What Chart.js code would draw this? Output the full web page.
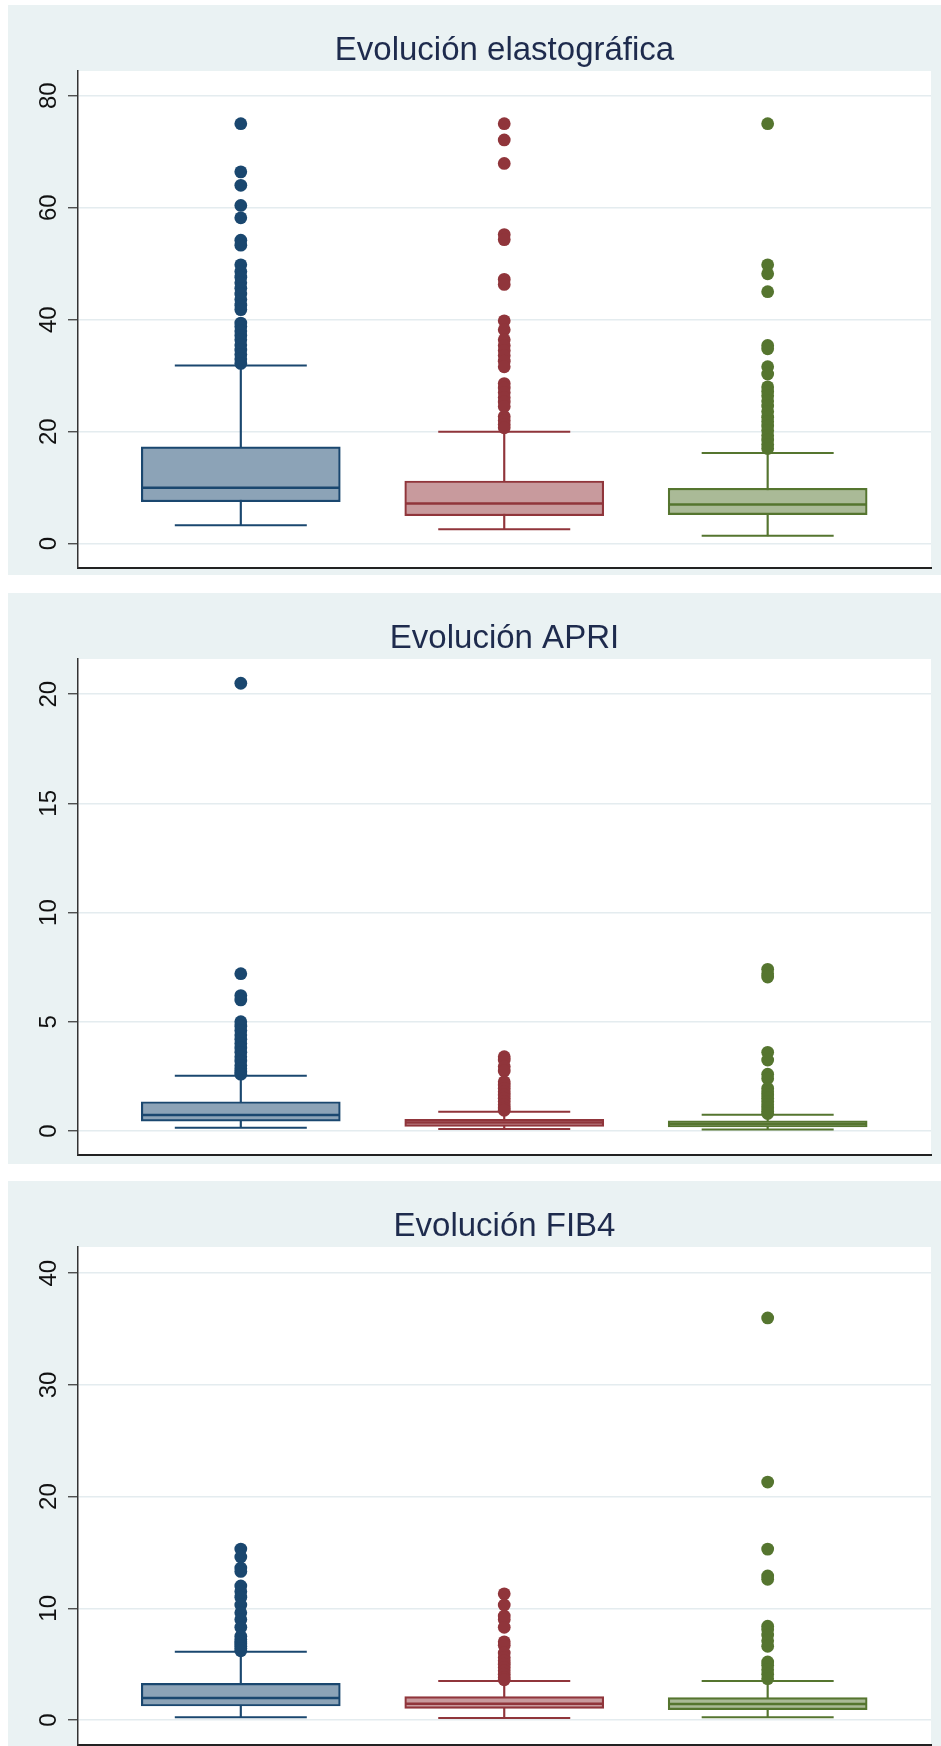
<!DOCTYPE html>
<html lang="es">
<head>
<meta charset="UTF-8">
<title>Evolución</title>
<script src="https://cdn.jsdelivr.net/npm/chart.js"></script>
<style>
    body {
        margin: 0;
        background: #ffffff;
        width: 941px;
        height: 1746px;
        position: relative;
        overflow: hidden;
    }

    .panel {
        position: absolute;
        left: 8px;
        width: 933px;
        background: #eaf2f3;
    }

    .panel canvas {
        display: block;
    }
</style>
</head>
<body>
    <div class="panel" style="top:5px;height:570px"><canvas id="elastoChart" width="933" height="570"></canvas></div>
    <div class="panel" style="top:593px;height:571px"><canvas id="apriChart" width="933" height="571"></canvas></div>
    <div class="panel" style="top:1181px;height:565px"><canvas id="fib4Chart" width="933" height="565"></canvas></div>

<script>
    // groups (one box per group, no axis labels in the original)
    const groups = [1, 2, 3];

    // Evolución elastográfica
    const elastoLow = [3.3, 2.6, 1.4];
    const elastoQ1 = [7.5, 5.0, 5.2];
    const elastoMedian = [10.0, 7.2, 7.0];
    const elastoQ3 = [17.3, 11.2, 9.9];
    const elastoHigh = [31.8, 20.0, 16.2];
    const elastoOutBlue = [75.0, 66.4, 64.0, 60.4, 58.2, 54.2, 53.3, 49.8, 48.6, 47.6, 46.6, 45.6, 44.6, 43.6, 42.6, 41.8, 39.4, 38.8, 38.0, 37.2, 36.4, 35.5, 34.6, 33.8, 33.0, 32.2];
    const elastoOutRed = [75.0, 72.1, 67.9, 55.2, 54.3, 47.2, 46.3, 39.8, 38.2, 36.4, 35.4, 34.5, 33.6, 32.6, 31.6, 28.6, 27.8, 27.0, 26.1, 25.3, 24.5, 22.7, 22.0, 21.3, 20.7];
    const elastoOutGreen = [75.0, 49.8, 48.2, 45.0, 35.4, 34.8, 31.6, 30.3, 28.0, 27.2, 26.4, 25.5, 24.6, 23.6, 22.6, 21.8, 21.0, 20.2, 19.3, 18.5, 17.7, 17.0];
    const elastoTicks = [0, 20, 40, 60, 80];

    // Evolución APRI
    const apriLow = [0.15, 0.09, 0.07];
    const apriQ1 = [0.45, 0.21, 0.18];
    const apriMedian = [0.73, 0.39, 0.33];
    const apriQ3 = [1.34, 0.53, 0.47];
    const apriHigh = [2.53, 0.88, 0.74];
    const apriOutBlue = [20.5, 7.2, 6.2, 6.0, 5.0, 4.8, 4.6, 4.4, 4.2, 4.0, 3.8, 3.6, 3.4, 3.2, 3.0, 2.85, 2.7, 2.6];
    const apriOutRed = [3.4, 3.25, 2.95, 2.75, 2.25, 2.1, 1.95, 1.8, 1.65, 1.5, 1.35, 1.2, 1.05, 0.95];
    const apriOutGreen = [7.4, 7.2, 7.05, 3.6, 3.25, 2.6, 2.4, 1.95, 1.8, 1.65, 1.5, 1.35, 1.2, 1.05, 0.9, 0.8];
    const apriTicks = [0, 5, 10, 15, 20];

    // Evolución FIB4
    const fib4Low = [0.24, 0.18, 0.24];
    const fib4Q1 = [1.25, 1.04, 0.93];
    const fib4Median = [1.97, 1.45, 1.43];
    const fib4Q3 = [3.28, 2.09, 2.0];
    const fib4High = [6.12, 3.49, 3.49];
    const fib4OutBlue = [15.3, 14.6, 13.6, 13.3, 12.0, 11.5, 11.0, 10.3, 9.6, 9.0, 8.3, 7.5, 7.2, 7.0, 6.8, 6.6, 6.4, 6.2];
    const fib4OutRed = [11.3, 10.3, 9.3, 9.0, 8.3, 7.0, 6.7, 6.0, 5.6, 5.3, 5.0, 4.7, 4.4, 4.1, 3.8, 3.6];
    const fib4OutGreen = [36.0, 21.3, 15.3, 12.9, 12.6, 8.4, 8.1, 7.6, 7.1, 6.6, 5.2, 4.9, 4.5, 4.1, 3.7];
    const fib4Ticks = [0, 10, 20, 30, 40];

    const lineColors = ['#1a476f', '#90353b', '#55752f'];
    const fillColors = ['#8ca3b7', '#c89a9d', '#aaba97'];
    const fontFamily = '"Liberation Sans", Arial, Helvetica, sans-serif';

    // white plot region on the bluish graph region
    const plotBg = {
        id: 'plotBg',
        beforeDraw(chart) {
            const a = chart.chartArea;
            chart.ctx.save();
            chart.ctx.fillStyle = '#ffffff';
            chart.ctx.fillRect(a.left, a.top, a.right - a.left, a.bottom - a.top);
            chart.ctx.restore();
        }
    };

    function boxChart(id, title, s, yMin, yMax, axisHeight) {
        const caps = [];
        const capColors = [];
        groups.forEach((g, i) => {
            caps.push({ x: g, y: s.low[i] }, { x: g, y: s.high[i] });
            capColors.push(lineColors[i], lineColors[i]);
        });

        const datasets = [
            {
                type: 'bar',
                data: groups.map((g, i) => ({ x: g, y: [s.low[i], s.high[i]] })),
                backgroundColor: lineColors,
                borderWidth: 0,
                barThickness: 1.5,
                grouped: false,
                order: 5
            },
            {
                type: 'bar',
                data: groups.map((g, i) => ({ x: g, y: [s.q1[i], s.q3[i]] })),
                backgroundColor: fillColors,
                borderColor: lineColors,
                borderWidth: 2.2,
                borderSkipped: false,
                barThickness: 199,
                grouped: false,
                order: 4
            },
            {
                type: 'scatter',
                data: groups.map((g, i) => ({ x: g, y: s.median[i] })),
                pointStyle: 'line',
                pointRadius: 99,
                pointBorderWidth: 2.5,
                pointBorderColor: lineColors,
                order: 3
            },
            {
                type: 'scatter',
                data: caps,
                pointStyle: 'line',
                pointRadius: 66,
                pointBorderWidth: 2,
                pointBorderColor: capColors,
                order: 2
            }
        ];

        s.outliers.forEach((vals, i) => {
            datasets.push({
                type: 'scatter',
                data: vals.map(v => ({ x: groups[i], y: v })),
                pointRadius: 6.4,
                pointBorderWidth: 0,
                pointBackgroundColor: lineColors[i],
                order: 1
            });
        });

        return new Chart(document.getElementById(id), {
            type: 'bar',
            data: { datasets: datasets },
            plugins: [plotBg],
            options: {
                responsive: false,
                animation: false,
                events: [],
                layout: { autoPadding: false, padding: { top: 0, right: 10, bottom: 0, left: 0 } },
                plugins: {
                    legend: { display: false },
                    tooltip: { enabled: false },
                    title: {
                        display: true,
                        text: title,
                        fullSize: false,
                        color: '#1e2b4d',
                        font: { family: fontFamily, size: 33, weight: 'normal', lineHeight: 1 },
                        padding: { top: 29, bottom: 4 }
                    }
                },
                scales: {
                    x: {
                        type: 'linear',
                        min: 0.382,
                        max: 3.62,
                        offset: false,
                        ticks: { display: false },
                        grid: { display: false, drawTicks: false },
                        border: { display: true, color: '#222222', width: 2 },
                        afterFit: sc => { sc.height = axisHeight; sc.paddingLeft = 0; sc.paddingRight = 0; }
                    },
                    y: {
                        type: 'linear',
                        min: yMin,
                        max: yMax,
                        afterBuildTicks: sc => { sc.ticks = s.ticks.map(v => ({ value: v })); },
                        afterFit: sc => { sc.width = 70; sc.paddingTop = 0; sc.paddingBottom = 0; },
                        ticks: {
                            minRotation: 90,
                            maxRotation: 90,
                            crossAlign: 'center',
                            padding: 5,
                            autoSkip: false,
                            color: '#111111',
                            font: { family: fontFamily, size: 24 }
                        },
                        grid: {
                            color: '#e4ecef',
                            lineWidth: 1.5,
                            tickColor: '#333333',
                            tickLength: 10,
                            tickWidth: 1.2
                        },
                        border: { display: true, color: '#333333', width: 1.5 }
                    }
                }
            }
        });
    }

    boxChart('elastoChart', 'Evolución elastográfica', {
        low: elastoLow, q1: elastoQ1, median: elastoMedian, q3: elastoQ3, high: elastoHigh,
        outliers: [elastoOutBlue, elastoOutRed, elastoOutGreen], ticks: elastoTicks
    }, -4.34, 84.41, 7);

    boxChart('apriChart', 'Evolución APRI', {
        low: apriLow, q1: apriQ1, median: apriMedian, q3: apriQ3, high: apriHigh,
        outliers: [apriOutBlue, apriOutRed, apriOutGreen], ticks: apriTicks
    }, -1.10, 21.61, 9);

    boxChart('fib4Chart', 'Evolución FIB4', {
        low: fib4Low, q1: fib4Q1, median: fib4Median, q3: fib4Q3, high: fib4High,
        outliers: [fib4OutBlue, fib4OutRed, fib4OutGreen], ticks: fib4Ticks
    }, -2.24, 42.35, 1);
</script>
</body>
</html>
